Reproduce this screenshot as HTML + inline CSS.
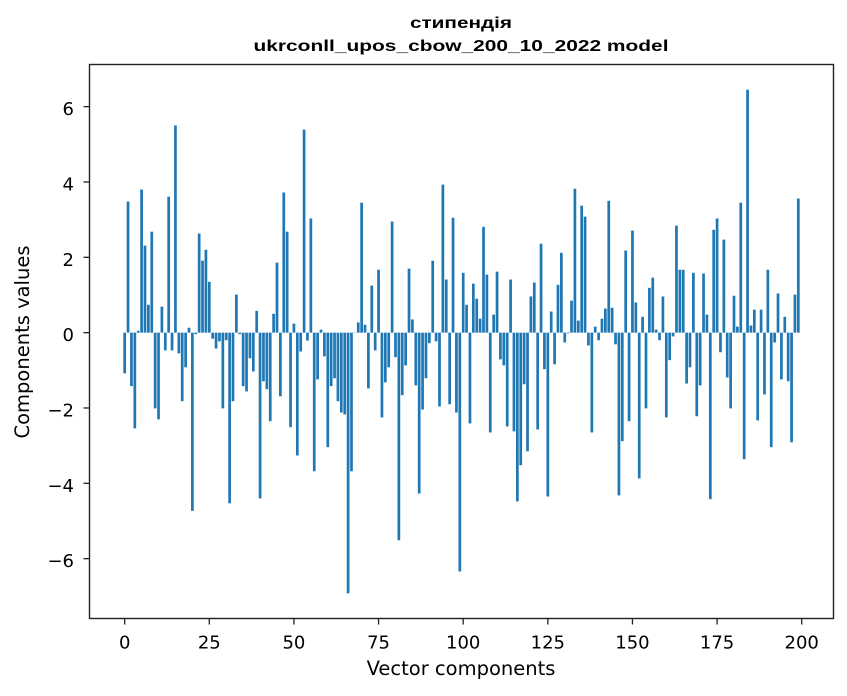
<!DOCTYPE html>
<html><head><meta charset="utf-8"><style>
html,body{margin:0;padding:0;background:#fff;}
svg{display:block;}
text{font-family:"DejaVu Sans","Liberation Sans",sans-serif;fill:#000;}
</style></head><body>
<svg id="chart" width="847" height="696" viewBox="0 0 847 696" xmlns="http://www.w3.org/2000/svg">
<rect x="0" y="0" width="847" height="696" fill="#fff"/>
<g id="bars"></g>
<g id="xticks"></g>
<g id="yticks"></g>
<rect x="89.5" y="64.5" width="744" height="554" fill="none" stroke="#222" stroke-width="1.4"/>
<text x="461" y="28" text-anchor="middle" font-size="16" font-weight="bold" textLength="102" lengthAdjust="spacingAndGlyphs" style="font-family:'Liberation Sans',sans-serif">стипендія</text>
<text x="461" y="51" text-anchor="middle" font-size="16" font-weight="bold" textLength="415" lengthAdjust="spacingAndGlyphs" style="font-family:'Liberation Sans',sans-serif">ukrconll_upos_cbow_200_10_2022 model</text>
<text x="461" y="675" text-anchor="middle" font-size="19.5">Vector components</text>
<text transform="translate(29,342) rotate(-90)" text-anchor="middle" font-size="19.5">Components values</text>
</svg>
<script>
const values = [
-1.08,3.48,-1.42,-2.54,0.05,3.8,2.31,0.74,2.68,-2.01,
-2.3,0.69,-0.47,3.61,-0.47,5.5,-0.55,-1.82,-0.92,0.13,
-4.73,-0.04,2.63,1.91,2.2,1.35,-0.16,-0.42,-0.23,-2.01,
-0.2,-4.53,-1.82,1.01,-0.04,-1.42,-1.56,-0.68,-1.03,0.58,
-4.4,-1.29,-1.5,-2.35,0.5,1.86,-1.69,3.72,2.68,-2.51,
0.24,-3.26,-0.5,5.39,-0.21,3.03,-3.68,-1.24,0.08,-0.63,
-3.04,-1.42,-1.21,-1.82,-2.12,-2.17,-6.92,-3.68,0.0,0.27,
3.45,0.21,-1.48,1.25,-0.47,1.67,-2.25,-1.32,-0.92,2.95,
-0.65,-5.51,-1.66,-0.87,1.7,0.35,-1.4,-4.27,-2.04,-1.21,
-0.28,1.91,-0.23,-1.96,3.93,1.41,-1.9,3.05,-2.12,-6.34,
1.59,0.74,-2.41,1.3,0.9,0.37,2.81,1.54,-2.65,0.48,
1.62,-0.71,-0.87,-2.49,1.41,-2.62,-4.48,-3.52,-1.37,-3.15,
0.96,1.33,-2.57,2.36,-0.97,-4.35,0.56,-0.84,1.27,2.12,
-0.26,-0.02,0.85,3.82,0.32,3.37,3.08,-0.34,-2.65,0.16,
-0.2,0.37,0.64,3.5,0.66,-0.31,-4.32,-2.88,2.18,-2.35,
2.71,0.8,-3.87,0.42,-2.01,1.19,1.46,0.08,-0.2,0.96,
-2.25,-0.73,-0.1,2.84,1.67,1.67,-1.35,-0.92,1.59,-2.22,
-1.4,1.57,0.48,-4.42,2.73,3.03,-0.52,2.47,-1.19,-2.01,
0.98,0.16,3.45,-3.36,6.45,0.19,0.61,-2.33,0.61,-1.64,
1.67,-3.04,-0.26,1.04,-1.24,0.42,-1.29,-2.91,1.01,3.56
];
const xTicks = [0,25,50,75,100,125,150,175,200];
const yTicks = [-6,-4,-2,0,2,4,6];

const NS = 'http://www.w3.org/2000/svg';
const L = 89.5, R = 833.5, T = 64.5, B = 618.5;
const barW = 0.8;
const xMin0 = -barW/2, xMax0 = values.length - 1 + barW/2;
const xm = (xMax0 - xMin0) * 0.05;
const xMin = xMin0 - xm, xMax = xMax0 + xm;
const vMax = Math.max(0, ...values), vMin = Math.min(0, ...values);
const ym = (vMax - vMin) * 0.05;
const yMin = vMin - ym, yMax = vMax + ym;
function xs(v){ return L + (v - xMin) / (xMax - xMin) * (R - L); }
function ys(v){ return B - (v - yMin) / (yMax - yMin) * (B - T); }

const gb = document.getElementById('bars');
values.forEach((v, i) => {
  const r = document.createElementNS(NS, 'rect');
  const x0 = xs(i - barW/2), x1 = xs(i + barW/2);
  const y0 = ys(Math.max(0, v)), y1 = ys(Math.min(0, v));
  r.setAttribute('x', x0);
  r.setAttribute('width', x1 - x0);
  r.setAttribute('y', y0);
  r.setAttribute('height', Math.max(0.3, y1 - y0));
  r.setAttribute('fill', '#1f77b4');
  
  
  gb.appendChild(r);
});

const gx = document.getElementById('xticks');
xTicks.forEach(t => {
  const x = xs(t);
  const ln = document.createElementNS(NS, 'line');
  ln.setAttribute('x1', x); ln.setAttribute('x2', x);
  ln.setAttribute('y1', B); ln.setAttribute('y2', B + 6);
  ln.setAttribute('stroke', '#222'); ln.setAttribute('stroke-width', '1.3');
  
  
  gx.appendChild(ln);
  const tx = document.createElementNS(NS, 'text');
  tx.setAttribute('x', x); tx.setAttribute('y', 648.5);
  tx.setAttribute('text-anchor', 'middle'); tx.setAttribute('font-size', '18');
  tx.textContent = String(t);
  
  
  gx.appendChild(tx);
});

const gy = document.getElementById('yticks');
yTicks.forEach(t => {
  const y = ys(t);
  const ln = document.createElementNS(NS, 'line');
  ln.setAttribute('x1', L - 6); ln.setAttribute('x2', L);
  ln.setAttribute('y1', y); ln.setAttribute('y2', y);
  ln.setAttribute('stroke', '#222'); ln.setAttribute('stroke-width', '1.3');
  
  
  gy.appendChild(ln);
  const tx = document.createElementNS(NS, 'text');
  tx.setAttribute('x', 74); tx.setAttribute('y', y + 8.5);
  tx.setAttribute('text-anchor', 'end'); tx.setAttribute('font-size', '18');
  tx.textContent = t < 0 ? '\u2212' + Math.abs(t) : String(t);
  
  
  gy.appendChild(tx);
});
</script>
</body></html>
